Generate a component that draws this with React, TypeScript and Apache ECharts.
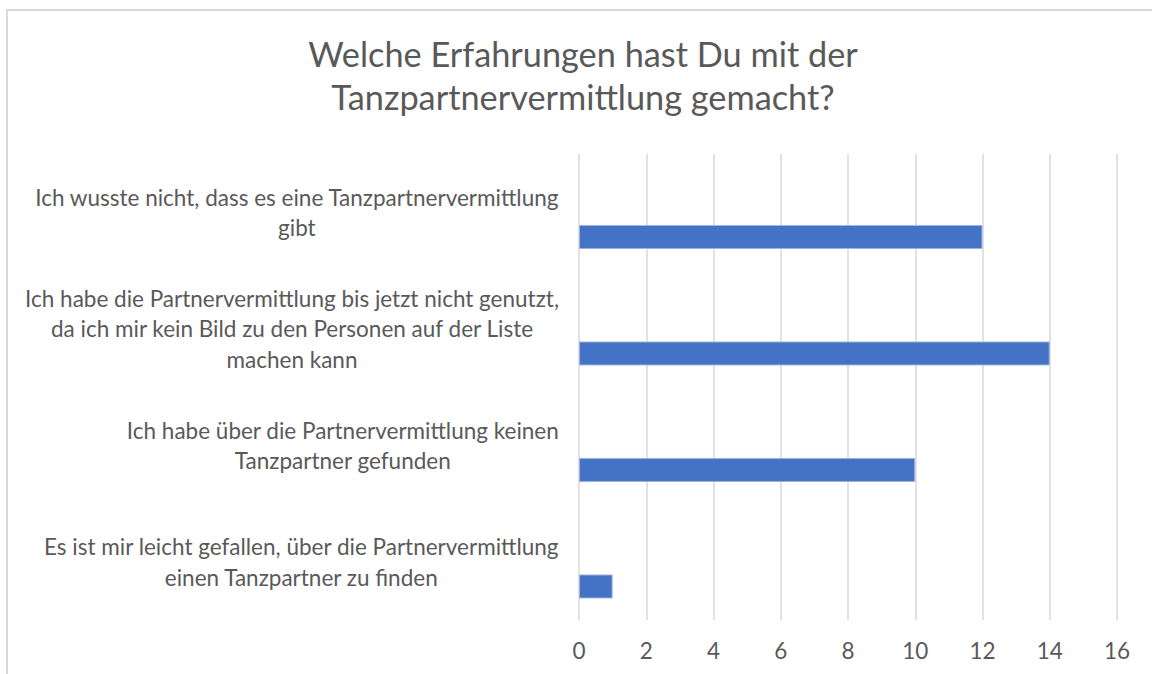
import React, { useEffect, useRef } from "react";
import * as echarts from "echarts";

const titleText = "Welche Erfahrungen hast Du mit der\nTanzpartnervermittlung gemacht?";

// bottom-to-top order (category axis starts at the bottom)
const categories = [
  "Es ist mir leicht gefallen, über die Partnervermittlung\neinen Tanzpartner zu finden",
  "Ich habe über die Partnervermittlung keinen\nTanzpartner gefunden",
  "Ich habe die Partnervermittlung bis jetzt nicht genutzt,\nda ich mir kein Bild zu den Personen auf der Liste\nmachen kann",
  "Ich wusste nicht, dass es eine Tanzpartnervermittlung\ngibt",
];
const values = [1, 10, 14, 12];
const emptySeries = ["-", "-", "-", "-"];
const xTicks = { min: 0, max: 16, interval: 2 };

const FONT = "Lato";
const TEXT = "#595959";

export default function App() {
  const ref = useRef<HTMLDivElement>(null);
  useEffect(() => {
    if (!ref.current) return;
    const chart = echarts.init(ref.current, undefined, { renderer: "svg" });
    chart.setOption({
      animation: false,
      backgroundColor: "#ffffff",
      title: {
        text: titleText,
        left: 583,
        top: 32,
        padding: 0,
        textAlign: "center",
        textStyle: {
          fontFamily: FONT,
          fontSize: 34.3,
          fontWeight: "normal",
          color: TEXT,
          lineHeight: 43,
        },
      },
      graphic: [
        {
          type: "rect",
          shape: { x: 7, y: 10, width: 1200, height: 700 },
          style: { fill: "none", stroke: "#D9D9D9", lineWidth: 2 },
          silent: true,
        },
      ],
      grid: { left: 579, right: 35, top: 154, bottom: 54, containLabel: false },
      xAxis: {
        type: "value",
        min: xTicks.min,
        max: xTicks.max,
        interval: xTicks.interval,
        axisLine: { show: false },
        axisTick: { show: false },
        axisLabel: { color: TEXT, fontFamily: FONT, fontSize: 22.5, margin: 19 },
        splitLine: { show: true, lineStyle: { color: "#D9D9D9", width: 1.5 } },
      },
      yAxis: {
        type: "category",
        data: categories,
        axisLine: { show: false },
        axisTick: { show: false },
        splitLine: { show: false },
        axisLabel: {
          margin: 20,
          color: TEXT,
          fontFamily: FONT,
          fontSize: 22.5,
          lineHeight: 30.5,
          formatter: (v: string) =>
            v
              .split("\n")
              .map((l) => `{c|${l}}`)
              .join("\n"),
          rich: {
            c: {
              align: "center",
              color: TEXT,
              fontFamily: FONT,
              fontSize: 22.5,
              lineHeight: 30.5,
            },
          },
        },
      },
      series: [
        {
          type: "bar",
          data: emptySeries,
          barWidth: 24,
          barGap: "106%",
          itemStyle: { color: "#ED7D31" },
        },
        {
          type: "bar",
          data: values,
          barWidth: 24,
          barGap: "106%",
          itemStyle: { color: "#4472C4", borderColor: "#9DB4E0", borderWidth: 1 },
        },
      ],
    });
    return () => chart.dispose();
  }, []);
  return (
    <div
      ref={ref}
      style={{ position: "fixed", left: 0, top: 0, width: 1152, height: 674 }}
    />
  );
}
